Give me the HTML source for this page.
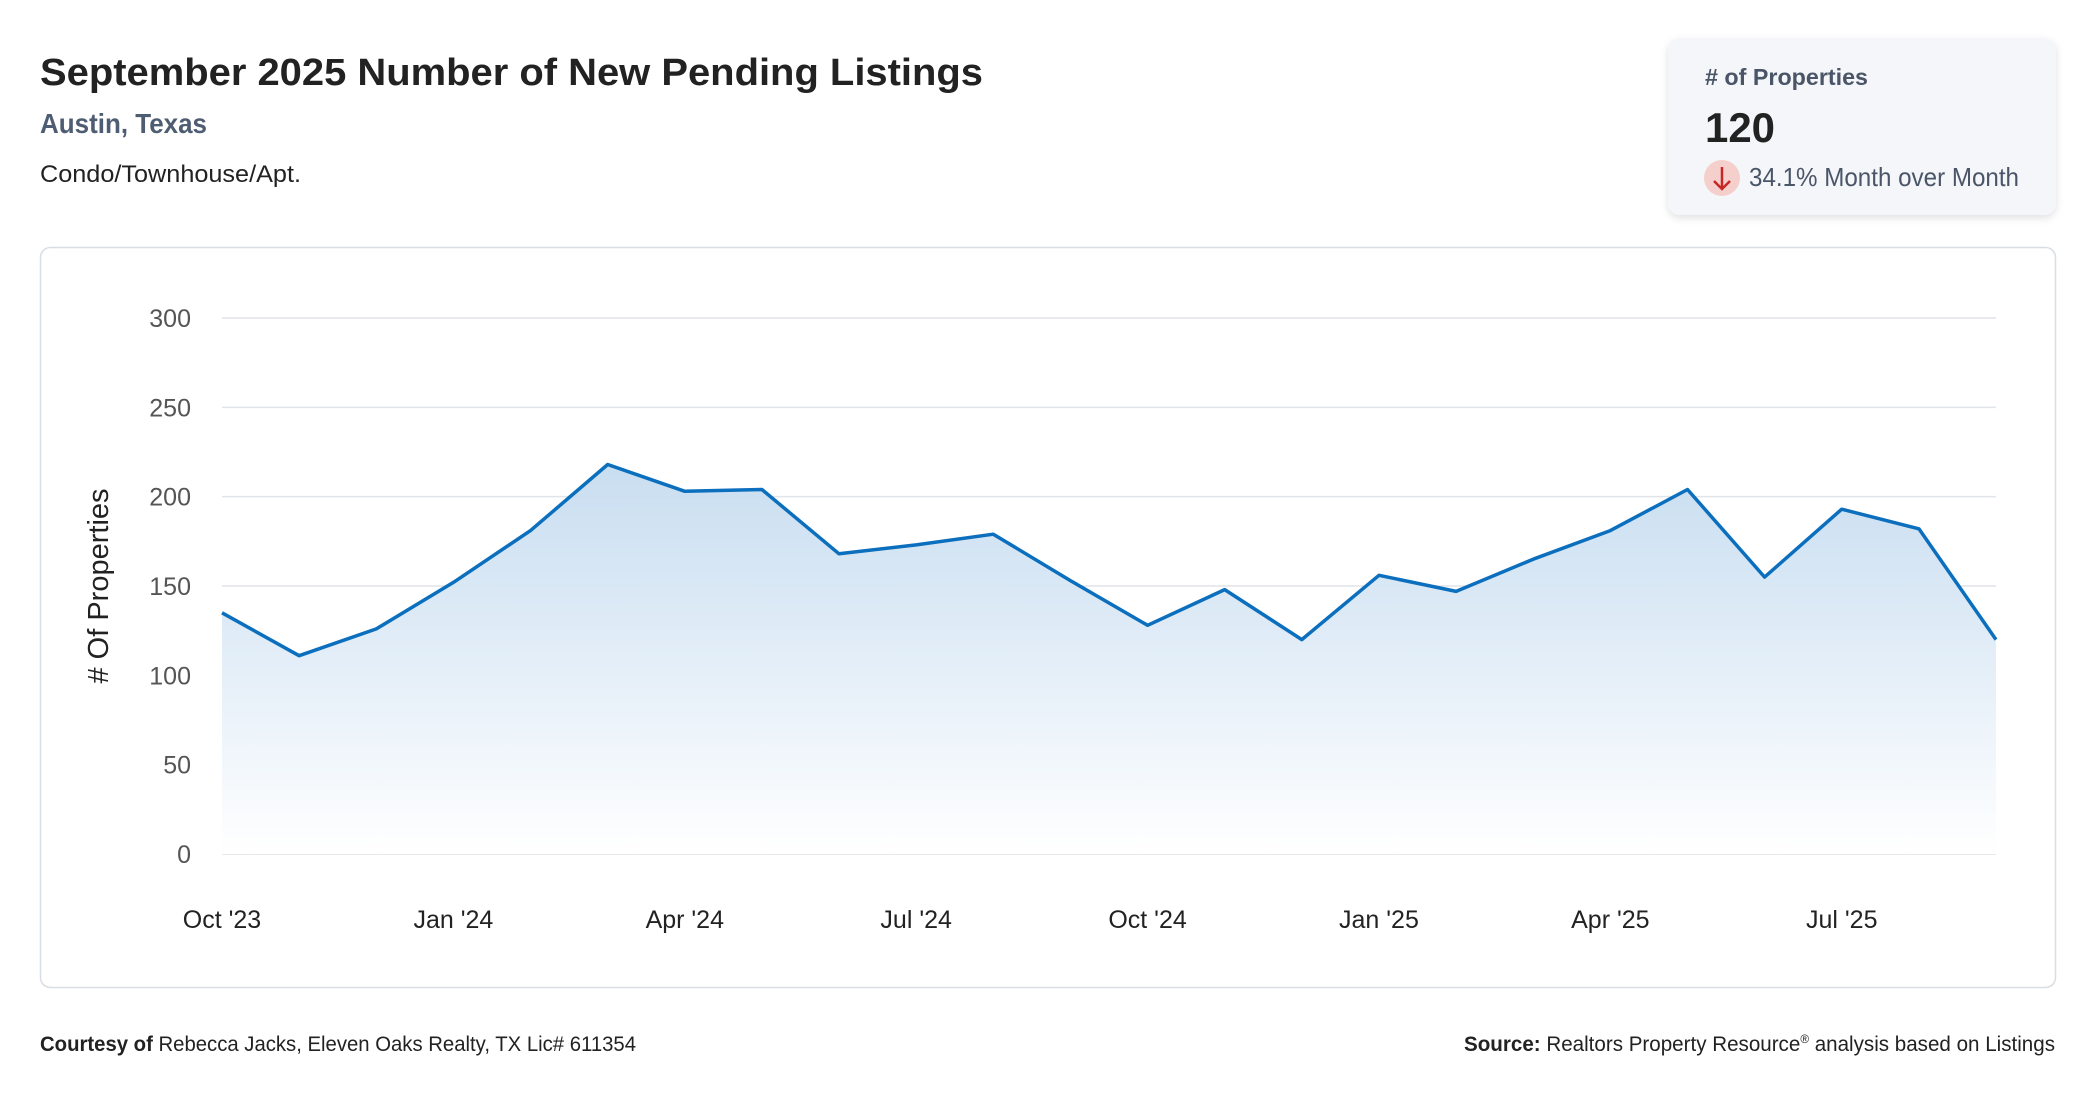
<!DOCTYPE html>
<html><head><meta charset="utf-8"><style>
html,body{margin:0;padding:0;background:#fff;}
svg{display:block;font-family:"Liberation Sans",sans-serif;}
</style></head><body>
<svg id="chart" width="2096" height="1100" viewBox="0 0 2096 1100">
<defs>
<linearGradient id="fillg" x1="0" y1="0" x2="0" y2="1">
<stop offset="0" stop-color="#c6dcf0" stop-opacity="0.95"/>
<stop offset="1" stop-color="#ffffff" stop-opacity="1"/>
</linearGradient>
<filter id="sh" x="-10%" y="-10%" width="120%" height="130%"><feDropShadow dx="0" dy="3" stdDeviation="4" flood-color="#000" flood-opacity="0.12"/></filter>
</defs>
<text x="40" y="85" font-size="38" font-weight="bold" fill="#222" textLength="943" lengthAdjust="spacingAndGlyphs">September 2025 Number of New Pending Listings</text>
<text x="40" y="133" font-size="28" font-weight="bold" fill="#4f5d73" textLength="167" lengthAdjust="spacingAndGlyphs">Austin, Texas</text>
<text x="40" y="182" font-size="24" fill="#222" textLength="261" lengthAdjust="spacingAndGlyphs">Condo/Townhouse/Apt.</text>

<g>
<rect x="1668" y="38" width="388" height="177" rx="12" fill="#f4f6f9" filter="url(#sh)"/>
<text x="1705" y="85" font-size="23" font-weight="bold" fill="#4a5568" textLength="163" lengthAdjust="spacingAndGlyphs"># of Properties</text>
<text x="1705" y="142" font-size="42" font-weight="bold" fill="#222" textLength="70" lengthAdjust="spacingAndGlyphs">120</text>
<circle cx="1722" cy="178" r="18" fill="#f5cfcb"/>
<path d="M1722 167 V189 M1714 181 L1722 189 L1730 181" stroke="#c62828" stroke-width="2.5" fill="none"/>
<text x="1749" y="186" font-size="26" fill="#4a5568" textLength="270" lengthAdjust="spacingAndGlyphs">34.1% Month over Month</text>
</g>

<rect x="40.5" y="247.5" width="2015" height="740" rx="10" fill="#fff" stroke="#d9dee4" stroke-width="1.5"/>
<g id="grid"></g>
<g id="plot"></g>
<g id="xaxis"></g>
<text transform="translate(108,586) rotate(-90)" text-anchor="middle" font-size="29" fill="#222"># Of Properties</text>

<text x="40" y="1051" font-size="21" fill="#222" textLength="596" lengthAdjust="spacingAndGlyphs"><tspan font-weight="bold">Courtesy of</tspan> Rebecca Jacks, Eleven Oaks Realty, TX Lic# 611354</text>
<text x="1464" y="1051" font-size="21" fill="#222" textLength="591" lengthAdjust="spacingAndGlyphs"><tspan font-weight="bold">Source:</tspan> Realtors Property Resource<tspan font-size="12" dy="-8">®</tspan><tspan dy="8"> analysis based on Listings</tspan></text>
</svg>
<script>
const months = ["Oct '23","Nov '23","Dec '23","Jan '24","Feb '24","Mar '24","Apr '24","May '24","Jun '24","Jul '24","Aug '24","Sep '24","Oct '24","Nov '24","Dec '24","Jan '25","Feb '25","Mar '25","Apr '25","May '25","Jun '25","Jul '25","Aug '25","Sep '25"];
const values = [135,111,126,152,181,218,203,204,168,173,179,153,128,148,120,156,147,165,181,204,155,193,182,120];
const yTicks = [0,50,100,150,200,250,300];
const xTickIdx = [0,3,6,9,12,15,18,21];

const NS = "http://www.w3.org/2000/svg";
const X0 = 222, X1 = 1996, Y0 = 854, Y1 = 318, YMAX = 300;
function xs(i){ return X0 + (X1 - X0) * i / (months.length - 1); }
function ys(v){ return Y0 - (Y0 - Y1) * v / YMAX; }
function mk(tag, attrs, parent){ const e = document.createElementNS(NS, tag); for (const k in attrs) e.setAttribute(k, attrs[k]); parent.appendChild(e); return e; }

const grid = document.getElementById('grid');
yTicks.forEach(t => {
  const l = mk('line', {x1:X0, x2:X1, y1:ys(t), y2:ys(t), stroke:'#e1e4e8', 'stroke-width':1.5}, grid);
  
  
  const tx = mk('text', {x:191, y:ys(t)+9, 'text-anchor':'end', 'font-size':25, fill:'#555'}, grid);
  tx.textContent = t;
  
  
});

const plot = document.getElementById('plot');
let d = '';
values.forEach((v, i) => { d += (i ? 'L' : 'M') + xs(i).toFixed(1) + ' ' + ys(v).toFixed(1) + ' '; });
const area = mk('path', {d: d + 'L' + xs(values.length-1) + ' ' + Y0 + ' L' + X0 + ' ' + Y0 + ' Z', fill:'url(#fillg)'}, plot);


const line = mk('path', {d: d, fill:'none', stroke:'#0b6fbe', 'stroke-width':3.5, 'stroke-linejoin':'round'}, plot);



const xaxis = document.getElementById('xaxis');
xTickIdx.forEach(i => {
  const tx = mk('text', {x:xs(i), y:928, 'text-anchor':'middle', 'font-size':25, fill:'#222'}, xaxis);
  tx.textContent = months[i];
  
  
});
</script>
</body></html>
